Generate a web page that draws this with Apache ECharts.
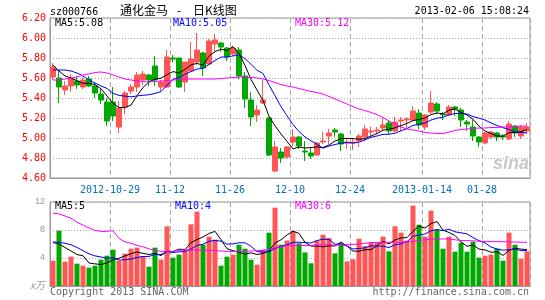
<!DOCTYPE html>
<html><head><meta charset="utf-8">
<script src="https://cdn.jsdelivr.net/npm/echarts@6/dist/echarts.min.js"></script>
<style>html,body{margin:0;padding:0;background:#fff}#c{width:545px;height:300px}</style>
</head><body><div id="c"></div>
<script>
const dates = [
'2012-10-15','2012-10-16','2012-10-17','2012-10-18','2012-10-19',
'2012-10-22','2012-10-23','2012-10-24','2012-10-25','2012-10-26',
'2012-10-29','2012-10-30','2012-10-31','2012-11-01','2012-11-02',
'2012-11-05','2012-11-06','2012-11-07','2012-11-08','2012-11-09',
'2012-11-12','2012-11-13','2012-11-14','2012-11-15','2012-11-16',
'2012-11-19','2012-11-20','2012-11-21','2012-11-22','2012-11-23',
'2012-11-26','2012-11-27','2012-11-28','2012-11-29','2012-11-30',
'2012-12-03','2012-12-04','2012-12-05','2012-12-06','2012-12-07',
'2012-12-10','2012-12-11','2012-12-12','2012-12-13','2012-12-14',
'2012-12-17','2012-12-18','2012-12-19','2012-12-20','2012-12-21',
'2012-12-24','2012-12-25','2012-12-26','2012-12-27','2012-12-28',
'2012-12-31','2013-01-04',
'2013-01-07','2013-01-08','2013-01-09','2013-01-10','2013-01-11',
'2013-01-14','2013-01-15','2013-01-16','2013-01-17','2013-01-18',
'2013-01-21','2013-01-22','2013-01-23','2013-01-24','2013-01-25',
'2013-01-28','2013-01-29','2013-01-30','2013-01-31','2013-02-01',
'2013-02-04','2013-02-05','2013-02-06'];

const opens = [5.61,5.60,5.48,5.52,5.57,5.51,5.59,5.52,5.44,5.36,
5.36,5.11,5.31,5.47,5.51,5.58,5.63,5.72,5.51,5.51,
5.80,5.80,5.56,5.67,5.76,5.85,5.74,5.94,5.95,5.90,
5.84,5.88,5.62,5.38,5.23,5.35,5.20,4.67,4.86,4.81,
4.96,5.01,4.87,4.85,4.83,4.96,5.02,5.08,5.04,4.95,
4.95,4.97,5.01,5.06,5.07,5.10,5.15,5.07,5.17,5.18,
5.18,5.25,5.11,5.26,5.34,5.24,5.23,5.31,5.28,5.16,
5.11,5.01,4.95,5.01,5.05,5.02,4.99,5.12,5.02,5.07];
const closes = [5.71,5.51,5.52,5.59,5.53,5.58,5.52,5.45,5.38,5.17,
5.22,5.30,5.45,5.51,5.63,5.64,5.58,5.58,5.56,5.81,
5.79,5.51,5.76,5.79,5.88,5.70,5.97,5.98,5.91,5.81,
5.90,5.62,5.39,5.21,5.28,5.38,4.83,4.91,4.80,4.91,
5.01,4.92,4.86,4.82,4.95,4.97,5.05,5.06,4.94,4.96,
4.96,5.02,5.09,5.07,5.08,5.13,5.07,5.16,5.18,5.19,
5.27,5.13,5.23,5.35,5.27,5.23,5.31,5.29,5.18,5.14,
5.02,4.96,5.05,5.06,5.01,5.01,5.14,5.05,5.11,5.11];
const lows = [5.58,5.35,5.43,5.46,5.49,5.49,5.51,5.40,5.34,5.12,
5.17,5.05,5.24,5.44,5.46,5.53,5.52,5.52,5.46,5.50,
5.76,5.50,5.46,5.66,5.73,5.62,5.73,5.87,5.86,5.77,
5.82,5.59,5.30,5.12,5.16,5.34,4.82,4.66,4.75,4.79,
4.92,4.89,4.77,4.79,4.82,4.94,4.94,5.01,4.87,4.89,
4.88,4.91,4.97,5.02,5.04,5.07,5.04,5.06,5.07,5.10,
5.17,5.09,5.08,5.24,5.24,5.18,5.22,5.22,5.11,5.07,
4.97,4.91,4.94,4.99,4.97,4.98,4.98,5.01,4.99,5.04];
const highs = [5.75,5.68,5.57,5.64,5.62,5.61,5.62,5.56,5.49,5.40,
5.51,5.37,5.47,5.54,5.66,5.67,5.64,5.82,5.58,5.88,
5.83,5.80,5.76,5.96,6.05,5.86,5.99,6.04,5.96,5.91,
5.92,5.91,5.66,5.46,5.33,5.58,5.21,4.97,4.90,4.92,
5.09,5.02,4.97,4.91,4.96,5.06,5.09,5.10,5.05,4.99,
5.00,5.04,5.13,5.11,5.11,5.20,5.18,5.21,5.21,5.21,
5.32,5.29,5.24,5.47,5.36,5.26,5.33,5.32,5.30,5.18,
5.18,5.02,5.06,5.07,5.06,5.04,5.17,5.13,5.13,5.15];

const ma5 = [5.73,5.67,5.62,5.60,5.572,5.546,5.548,5.534,5.492,5.42,
5.348,5.304,5.304,5.33,5.422,5.506,5.562,5.588,5.598,5.634,
5.664,5.65,5.686,5.732,5.746,5.728,5.82,5.864,5.888,5.874,
5.914,5.844,5.726,5.586,5.48,5.376,5.218,5.122,5.04,4.966,
4.892,4.91,4.90,4.904,4.912,4.904,4.93,4.97,4.994,4.996,
4.994,4.988,4.994,5.02,5.044,5.078,5.088,5.102,5.124,5.146,
5.174,5.186,5.20,5.234,5.25,5.242,5.278,5.29,5.256,5.23,
5.188,5.118,5.07,5.046,5.02,5.018,5.054,5.054,5.064,5.084];
const ma10 = [5.68,5.68,5.68,5.67,5.65,5.62,5.58,5.55,5.52,5.496,
5.447,5.426,5.419,5.411,5.421,5.427,5.433,5.446,5.464,5.528,
5.585,5.606,5.637,5.665,5.69,5.696,5.735,5.775,5.81,5.81,
5.821,5.832,5.795,5.737,5.677,5.645,5.531,5.424,5.313,5.223,
5.134,5.064,5.011,4.972,4.939,4.898,4.92,4.935,4.949,4.954,
4.949,4.959,4.982,5.007,5.02,5.036,5.038,5.048,5.072,5.095,
5.126,5.137,5.151,5.179,5.198,5.208,5.232,5.245,5.245,5.24,
5.215,5.198,5.18,5.151,5.125,5.103,5.086,5.062,5.055,5.052];
const ma30 = [5.58,5.58,5.59,5.60,5.61,5.63,5.64,5.655,5.66,5.65,
5.63,5.61,5.59,5.58,5.57,5.565,5.56,5.565,5.57,5.575,
5.58,5.585,5.59,5.59,5.59,5.59,5.59,5.59,5.595,5.60,
5.605,5.61,5.61,5.605,5.60,5.59,5.575,5.555,5.535,5.52,
5.51,5.495,5.48,5.465,5.455,5.44,5.415,5.39,5.365,5.34,
5.315,5.29,5.275,5.255,5.235,5.205,5.17,5.14,5.11,5.09,
5.08,5.07,5.055,5.05,5.045,5.045,5.06,5.075,5.085,5.09,
5.095,5.10,5.10,5.105,5.105,5.11,5.11,5.115,5.12,5.12];

const volumes = [3.62,7.90,3.48,4.19,3.19,2.90,2.62,2.90,3.76,4.33,
5.19,3.62,4.62,5.33,5.48,4.29,2.76,5.48,3.76,8.52,
4.05,4.48,5.19,8.81,10.62,5.90,7.05,6.62,2.90,4.19,
4.48,5.90,5.33,3.76,3.05,5.19,7.62,11.19,5.90,6.48,
7.90,6.10,4.80,3.24,6.48,7.33,6.86,4.67,6.10,3.52,
3.81,6.76,5.71,6.19,6.19,7.05,4.95,8.52,7.62,6.48,
11.48,8.76,7.05,10.76,8.00,5.33,7.05,4.90,6.19,4.90,
6.33,4.05,4.33,4.48,5.33,3.62,7.62,5.90,3.90,4.95];
const volMa5 = [6.2,6.0,5.5,5.0,4.48,4.33,3.28,3.16,3.07,3.30,
3.76,3.96,4.30,4.62,4.85,4.67,4.50,4.67,4.35,4.96,
4.91,5.26,5.20,6.21,6.63,7.00,7.51,7.80,6.62,5.33,
5.05,4.82,4.56,4.73,4.50,4.65,4.99,6.16,6.59,7.28,
7.82,7.51,6.24,5.70,5.70,5.59,5.74,5.72,6.29,5.70,
4.99,4.97,5.18,5.20,5.73,6.38,6.02,6.58,6.87,6.92,
7.81,8.57,8.28,8.91,9.21,7.98,7.64,7.21,6.29,5.67,
5.87,5.27,5.16,4.82,4.90,4.36,5.08,5.39,5.27,5.20];
const volMa10 = [6.3,6.25,6.1,5.9,5.5,5.05,4.6,4.3,4.15,3.95,
4.05,3.7,3.75,3.85,4.08,4.21,4.23,4.49,4.49,4.91,
4.79,4.88,4.93,5.28,5.80,5.96,6.39,6.50,6.41,5.98,
6.02,6.17,6.18,5.68,4.92,4.85,4.90,5.36,5.66,5.89,
6.23,6.25,6.20,6.15,6.49,6.70,6.63,5.98,6.00,5.70,
5.29,5.36,5.45,5.74,5.71,5.69,5.50,5.88,6.03,6.33,
7.10,7.30,7.43,7.89,8.07,7.90,8.11,7.74,7.60,7.44,
6.93,6.46,6.18,5.56,5.29,5.12,5.18,5.28,5.05,5.05];
const volMa30 = [10.4,10.3,10.0,9.7,9.1,8.7,8.3,7.95,7.8,7.8,
7.9,6.8,6.3,6.1,5.8,5.6,5.3,5.1,4.95,4.95,
4.95,5.1,5.15,5.15,5.15,5.1,5.1,5.05,5.0,4.95,
4.95,4.95,4.95,5.0,5.05,5.1,5.2,5.5,5.6,5.75,
5.78,5.78,5.78,5.8,5.85,5.9,5.9,5.85,5.85,5.9,
5.95,6.0,6.1,6.2,6.2,6.25,6.25,6.25,6.25,6.3,
6.4,6.5,6.6,6.7,6.72,6.72,6.72,6.6,6.5,6.48,
6.45,6.4,6.38,6.35,6.33,6.33,6.3,6.28,6.25,6.24];

const tickDates = ['2012-10-29','2012-11-12','2012-11-26','2012-12-10','2012-12-24','2013-01-14','2013-01-28'];
const tickLabels = ['2012-10-29','11-12','11-26','12-10','12-24','2013-01-14','01-28'];

const UP = '#ff5555', DOWN = '#00a800';
const MONO = '"DejaVu Sans Mono", "Liberation Mono", monospace';
const GRIDC = '#999';
const isTick = function (idx, v) { return tickDates.indexOf(v) >= 0; };
const dashLine = { show: true, interval: isTick, lineStyle: { color: '#aaa', width: 1, type: [5, 3] } };
const dotLine = { show: true, lineStyle: { color: '#aaa', width: 1, type: [1, 2] } };

function txt(text, x, y, color, font, align) {
  return { type: 'text', x: x, y: y, silent: true, z: 100,
    style: { text: text, fill: color, font: font, align: align || 'left', textAlign: align || 'left',
             verticalAlign: 'middle', textVerticalAlign: 'middle' } };
}

const chart = echarts.init(document.getElementById('c'), null, { renderer: 'canvas' });
const line = (name, data, color, xi) => ({
  name: name, type: 'line', data: data, xAxisIndex: xi, yAxisIndex: xi,
  symbol: 'none', showSymbol: false, smooth: false, z: 5,
  lineStyle: { color: color, width: 1 }, itemStyle: { color: color }
});

chart.setOption({
  animation: false,
  backgroundColor: '#fff',
  grid: [
    { left: 50, top: 18, width: 480, height: 160, show: true, borderColor: GRIDC, borderWidth: 1, backgroundColor: 'transparent' },
    { left: 50, top: 202, width: 480, height: 84, show: true, borderColor: GRIDC, borderWidth: 1, backgroundColor: 'transparent' }
  ],
  xAxis: [
    { type: 'category', gridIndex: 0, data: dates, boundaryGap: true,
      axisLine: { show: true, lineStyle: { color: GRIDC } }, axisTick: { show: false },
      axisLabel: { interval: isTick, formatter: v => tickLabels[tickDates.indexOf(v)],
        color: '#0070c0', fontFamily: MONO, fontSize: 10, margin: 7, padding: [0, 6, 0, 0] },
      splitLine: dashLine },
    { type: 'category', gridIndex: 1, data: dates, boundaryGap: true,
      axisLine: { show: true, lineStyle: { color: GRIDC } }, axisTick: { show: false },
      axisLabel: { show: false }, splitLine: dashLine }
  ],
  yAxis: [
    { type: 'value', gridIndex: 0, min: 4.6, max: 6.2, interval: 0.2, scale: true,
      axisLine: { show: true, lineStyle: { color: GRIDC } }, axisTick: { show: false },
      axisLabel: { color: '#f00', fontFamily: MONO, fontSize: 10, margin: 4, formatter: v => v.toFixed(2) },
      splitLine: dotLine },
    { type: 'value', gridIndex: 1, min: 0, max: 12, interval: 4,
      axisLine: { show: true, lineStyle: { color: GRIDC } }, axisTick: { show: false },
      axisLabel: { color: '#999', fontFamily: '"Liberation Sans", Arial, sans-serif', fontSize: 9, margin: 5,
        formatter: v => (v === 0 ? '' : String(v)) },
      splitLine: dotLine }
  ],
  series: [
    { name: 'K', type: 'candlestick', xAxisIndex: 0, yAxisIndex: 0, barWidth: 5, z: 3,
      data: dates.map((d, i) => [opens[i], closes[i], lows[i], highs[i]]),
      itemStyle: { color: UP, color0: DOWN, borderColor: UP, borderColor0: DOWN, borderWidth: 1 } },
    line('MA5', ma5, '#000000', 0),
    line('MA10', ma10, '#0000ff', 0),
    line('MA30', ma30, '#ff00ff', 0),
    { name: 'VOL', type: 'bar', xAxisIndex: 1, yAxisIndex: 1, barWidth: 5, z: 3,
      data: volumes.map((v, i) => ({ value: v, itemStyle: { color: closes[i] >= opens[i] ? UP : DOWN } })) },
    line('VMA5', volMa5, '#000000', 1),
    line('VMA10', volMa10, '#0000ff', 1),
    line('VMA30', volMa30, '#ff00ff', 1)
  ],
  graphic: [
    txt('sz000766', 50, 12, '#000', '10px ' + MONO),
    txt('通化金马', 120, 10.5, '#000', '12px "Noto Sans CJK SC"'),
    txt('-', 177, 10.5, '#000', '12px "Noto Sans CJK SC"'),
    txt('日K线图', 193, 10.5, '#000', '12px "Noto Sans CJK SC"'),
    txt('2013-02-06 15:08:24', 529, 11.5, '#000', '10px ' + MONO, 'right'),
    txt('MA5:5.08', 55, 23.5, '#000', '10px ' + MONO),
    txt('MA10:5.05', 173, 23.5, '#0000ff', '10px ' + MONO),
    txt('MA30:5.12', 295, 23.5, '#ff00ff', '10px ' + MONO),
    txt('MA5:5', 55, 206.5, '#000', '10px ' + MONO),
    txt('MA10:4', 175, 206.5, '#0000ff', '10px ' + MONO),
    txt('MA30:6', 295, 206.5, '#ff00ff', '10px ' + MONO),
    txt('x万', 45, 285.5, '#999', 'italic 10px "Noto Sans CJK SC"', 'right'),
    txt('Copyright 2013 SINA.COM', 50, 292.5, '#666', '10px ' + MONO),
    txt('http://finance.sina.com.cn', 529, 292.5, '#666', '10px ' + MONO, 'right'),
    txt('sina', 511, 164, '#c8c8c8', 'italic bold 18px "Liberation Sans", Arial, sans-serif', 'center')
  ]
});
</script></body></html>
